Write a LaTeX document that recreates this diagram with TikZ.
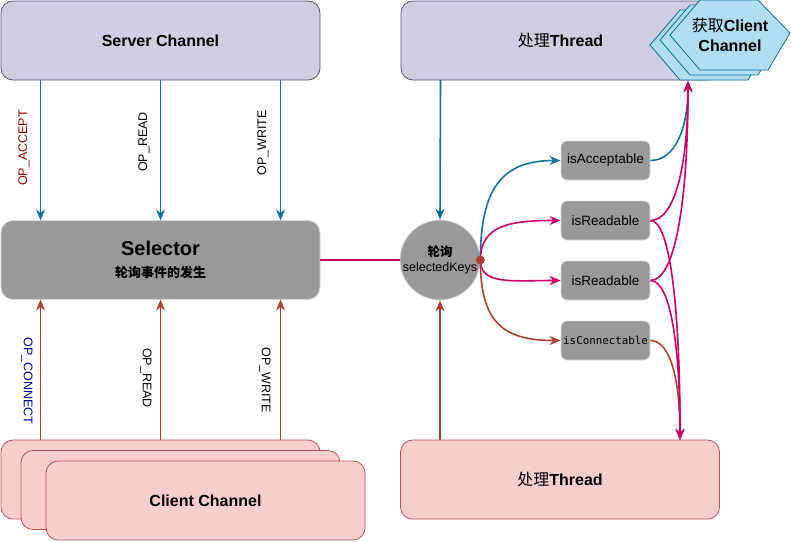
\documentclass[tikz,border=0pt]{standalone}
\usepackage{fontspec}
\setmainfont{Liberation Sans}
\newfontfamily\cjk{Noto Sans CJK SC}
\newfontfamily\codefont{DejaVu Sans Mono}
\usetikzlibrary{arrows.meta}

\definecolor{purfill}{HTML}{D0CEE2}
\definecolor{purline}{HTML}{56517E}
\definecolor{redfill}{HTML}{F8CECC}
\definecolor{redline}{HTML}{B85450}
\definecolor{hexfill}{HTML}{B1DDF0}
\definecolor{blueline}{HTML}{10739E}
\definecolor{selgray}{HTML}{999999}
\definecolor{grayline}{HTML}{D9D9D9}
\definecolor{pinkline}{HTML}{CC0066}
\definecolor{brownline}{HTML}{AE4132}
\definecolor{opred}{HTML}{990000}
\definecolor{opblue}{HTML}{000099}

\tikzset{
  box/.style={draw, rounded corners=12pt, inner sep=0pt, outer sep=0pt,
    minimum width=319pt, minimum height=79pt, line width=0.8pt, align=center},
  purbox/.style={box, fill=purfill, draw=purline},
  redbox/.style={box, fill=redfill, draw=redline},
  keybox/.style={draw=grayline, fill=selgray, rounded corners=6pt, inner sep=0pt,
    minimum width=89pt, minimum height=39pt, line width=0.8pt,
    font=\fontsize{13.5}{15}\selectfont},
  hexside/.style={draw=blueline, fill=hexfill, line width=0.8pt},
  flow/.style={line width=1.6pt, -{Stealth[length=11pt,width=9pt,inset=3.5pt]}},
  opname/.style={font=\fontsize{12.5}{14}\selectfont, inner sep=0pt},
}

\begin{document}
\begin{tikzpicture}[x=1pt, y=-1pt]
          \useasboundingbox (0,0) rectangle (791,541);

          % channels and selector
          \node[purbox, font=\fontsize{16}{19}\selectfont\bfseries] (server) at (160.5,40.5) {Server Channel};
          \node[purbox, font=\fontsize{16}{19}\selectfont] (threadT) at (560.5,40.5) {{\cjk 处理}\textbf{Thread}};
          \node[box, fill=selgray, draw=grayline, font=\fontsize{13}{16}\selectfont\bfseries] (sel) at (160.5,260)
            {{\fontsize{20}{24}\selectfont Selector}\\[6pt]{\cjk 轮询事件的发生}};

          \node[redbox] (clientA) at (160.5,479.5) {};
          \node[redbox] (clientB) at (180.5,490) {};
          \node[redbox, font=\fontsize{16}{19}\selectfont\bfseries] (clientC) at (205.5,500.5) {Client Channel};
          \node[redbox, font=\fontsize{16}{19}\selectfont] (threadB) at (560,479.5) {{\cjk 处理}\textbf{Thread}};

          % fetch client channel
          \foreach \d in {2,1,0}{
            \draw[hexside, shift={({-10*\d},{5*\d})}] (670,35) -- (700,0) -- (758,0) -- (790,33) -- (768,70) -- (700,70) -- cycle;
          }
          \node[align=center, inner sep=0pt, font=\fontsize{16}{20}\selectfont\bfseries] (fetch) at (730,35)
            {{\cjk\mdseries 获取}Client\\Channel};
          \coordinate (fetchin) at (688,81);

          % polling
          \node[circle, draw=grayline, fill=selgray, minimum size=80pt, inner sep=0pt, line width=0.8pt,
            align=center, font=\fontsize{12.5}{15}\selectfont] (poll) at (440,260)
            {{\cjk\bfseries 轮询}\\selectedKeys};
          \coordinate (hub) at (poll.east);

          \node[keybox] (acc) at (605.5,160.5) {isAcceptable};
          \node[keybox] (readA) at (605.5,220.5) {isReadable};
          \node[keybox] (readB) at (605.5,280.5) {isReadable};
          \node[keybox, font=\fontsize{10.8}{13}\codefont] (conn) at (605.5,340.5) {isConnectable};
          \coordinate (threadin) at ([xshift=120pt]threadB.north);

          \foreach \dx in {-120,0,120}{
            \draw[flow, draw=blueline] ([xshift=\dx pt]server.south) -- ([xshift=\dx pt]sel.north);
            \draw[flow, draw=brownline] ([xshift=\dx pt]clientA.north) -- ([xshift=\dx pt]sel.south);
          }

          \node[opname, rotate=90, text=opred] (lblacc) at (24,148) {OP\_ACCEPT};
          \node[opname, rotate=90] (lblreadT) at (144,142) {OP\_READ};
          \node[opname, rotate=90] (lblwriteT) at (263,143) {OP\_WRITE};
          \node[opname, rotate=-90, text=opblue] (lblconn) at (27,381) {OP\_CONNECT};
          \node[opname, rotate=-90] (lblreadB) at (146,378) {OP\_READ};
          \node[opname, rotate=-90] (lblwriteB) at (265,380) {OP\_WRITE};

          \draw[line width=1.6pt, pinkline] (sel.east) -- (poll.west);
          \draw[flow, draw=blueline] ([xshift=-120pt]threadT.south) -- (poll.north);
          \draw[flow, draw=brownline] ([xshift=-120pt]threadB.north) -- (poll.south);

          \draw[flow, draw=blueline] (hub) .. controls +(0,-70) and +(-60,0) .. (acc.west);
          \draw[flow, draw=pinkline] (hub) .. controls +(0,-35) and +(-50,0) .. (readA.west);
          \draw[flow, draw=pinkline] (hub) .. controls +(0,25) and +(-50,0) .. (readB.west);
          \draw[flow, draw=brownline] (hub) .. controls +(0,60) and +(-60,0) .. (conn.west);
          \fill[brownline] (hub) circle [radius=4.5pt];

          \draw[flow, draw=blueline] (acc.east) .. controls +(25,0) and +(0,47) .. (fetchin);
          \draw[flow, draw=brownline] (conn.east) .. controls +(20,0) and +(0,-60) .. (threadin);
          \draw[flow, draw=pinkline] (readA.east) .. controls +(25,0) and +(0,83) .. (fetchin);
          \draw[flow, draw=pinkline] (readB.east) .. controls +(25,0) and +(0,120) .. (fetchin);
          \draw[flow, draw=pinkline] (readA.east) .. controls +(20,0) and +(0,-130) .. (threadin);
          \draw[flow, draw=pinkline] (readB.east) .. controls +(20,0) and +(0,-95) .. (threadin);
        \end{tikzpicture}
\end{document}
